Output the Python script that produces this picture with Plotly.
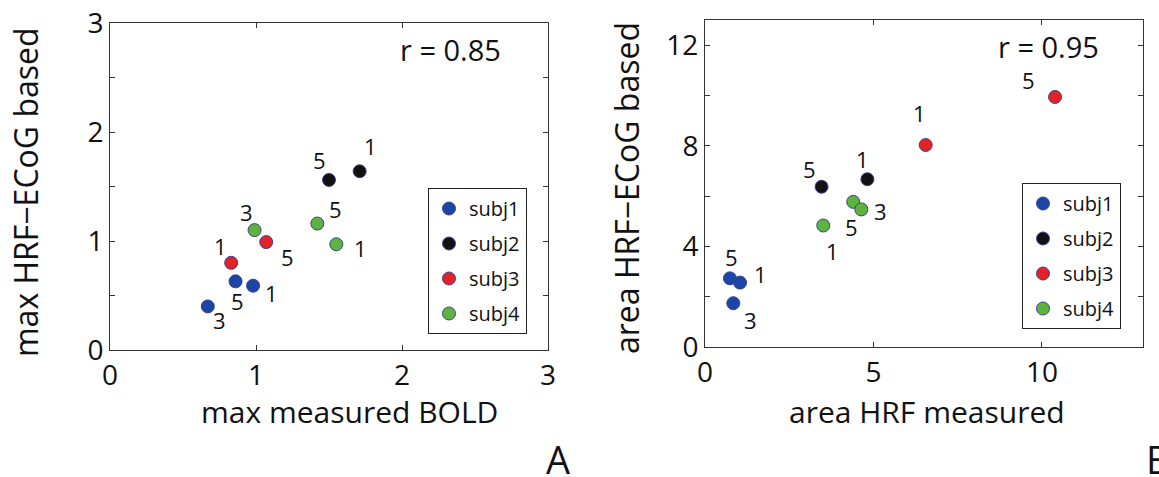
import plotly.graph_objects as go

W, H = 1159, 477
FONT = "Open Sans"

subjects = ["subj1", "subj2", "subj3", "subj4"]
colors = ["#1c46a6", "#111111", "#e32228", "#5cb33d"]

# Panel A: max measured BOLD vs max HRF-ECoG based
a_sessions = [[3, 5, 1], [5, 1], [1, 5], [3, 5, 1]]
a_x = [[0.67, 0.86, 0.98], [1.50, 1.71], [0.83, 1.07], [0.99, 1.42, 1.55]]
a_y = [[0.40, 0.63, 0.59], [1.56, 1.64], [0.80, 0.99], [1.10, 1.16, 0.97]]
a_r = "r = 0.85"

# Panel B: area HRF measured vs area HRF-ECoG based
b_sessions = [[5, 1, 3], [5, 1], [1, 5], [1, 5, 3]]
b_x = [[0.74, 1.04, 0.84], [3.46, 4.82], [6.55, 10.39], [3.51, 4.40, 4.64]]
b_y = [[2.73, 2.56, 1.74], [6.37, 6.67], [8.03, 9.94], [4.83, 5.77, 5.47]]
b_r = "r = 0.95"

a_xticks = [0, 1, 2, 3]
a_yticks = [0, 0.5, 1, 1.5, 2, 2.5, 3]
a_yticktext = ["0", "", "1", "", "2", "", "3"]
b_xticks = [0, 5, 10]
b_yticks = [0, 2, 4, 6, 8, 10, 12]
b_yticktext = ["0", "", "4", "", "8", "", "12"]

# label pixel offsets (style)
a_off = [[(12, -14), (2, -20), (18, -7)], [(-10, 20), (11, 25)],
         [(-11, 17), (21, -15)], [(-8, 18), (18, 15), (24, -4)]]
b_off = [[(2, 21), (20, 9), (17, -17)], [(-12, 18), (-5, 20)],
         [(-6, 32), (-27, 17)], [(9, -25), (-2, -25), (19, -2)]]

fig = go.Figure()
annotations = []

def add_panel(xs, ys, sess, offs, xa, ya, legend, gp):
    for i, name in enumerate(subjects):
        fig.add_trace(go.Scatter(
            x=xs[i], y=ys[i], mode="markers", name=name,
            xaxis=xa, yaxis=ya, legend=legend, legendgroup=gp + name,
            marker=dict(size=13, color=colors[i],
                        line=dict(color="#3d4090", width=1)),
        ))
        for j, s in enumerate(sess[i]):
            annotations.append(dict(
                x=xs[i][j], y=ys[i][j], xref=xa, yref=ya, text=str(s),
                showarrow=False, xshift=offs[i][j][0], yshift=offs[i][j][1],
                xanchor="center", yanchor="middle",
                font=dict(size=22, color="#111", family=FONT)))

add_panel(a_x, a_y, a_sessions, a_off, "x", "y", "legend", "A")
add_panel(b_x, b_y, b_sessions, b_off, "x2", "y2", "legend2", "B")

axis_common = dict(showline=True, linecolor="#333", linewidth=1, mirror="ticks",
                   ticks="inside", ticklen=5, tickcolor="#333", showgrid=False,
                   zeroline=False, automargin=False,
                   tickfont=dict(size=28, color="#111", family=FONT))

fig.update_layout(
    width=W, height=H, margin=dict(l=0, r=0, t=0, b=0, autoexpand=False),
    paper_bgcolor="white", plot_bgcolor="white", showlegend=True,
    xaxis=dict(domain=[110 / W, 548 / W], range=[0, 3], tickvals=a_xticks,
               anchor="y", **axis_common),
    yaxis=dict(domain=[1 - 350 / H, 1 - 23 / H], range=[0, 3], tickvals=a_yticks,
               ticktext=a_yticktext, anchor="x", **axis_common),
    xaxis2=dict(domain=[705 / W, 1143 / W], range=[0, 13], tickvals=b_xticks,
                anchor="y2", **axis_common),
    yaxis2=dict(domain=[1 - 347 / H, 1 - 20 / H], range=[0, 13], tickvals=b_yticks,
                ticktext=b_yticktext, anchor="x2", **axis_common),
    legend=dict(x=428 / W, y=1 - 188 / H, xanchor="left", yanchor="top",
                bordercolor="#222", borderwidth=1, bgcolor="white",
                tracegroupgap=6, font=dict(size=20, color="#111", family=FONT)),
    legend2=dict(x=1022 / W, y=1 - 183 / H, xanchor="left", yanchor="top",
                 bordercolor="#222", borderwidth=1, bgcolor="white",
                 tracegroupgap=6, font=dict(size=20, color="#111", family=FONT)),
)

titles = [
    ("max measured BOLD", 349, 411, 0, 30),
    ("max HRF\u2212ECoG based", 25, 192, -90, 32),
    ("area HRF measured", 927, 411, 0, 30),
    ("area HRF\u2212ECoG based", 626, 188, -90, 32),
]
for t, px, py, ang, fs in titles:
    annotations.append(dict(x=px / W, y=1 - py / H, xref="paper", yref="paper",
                            text=t, showarrow=False, textangle=ang,
                            xanchor="center", yanchor="middle",
                            font=dict(size=fs, color="#111", family=FONT)))
extras = [
    (a_r, 450, 49, 29, "center"),
    (b_r, 1048, 46, 29, "center"),
    ("A", 558, 459, 38, "center"),
    ("B", 1144, 459, 38, "left"),
]
for t, px, py, fs, xa in extras:
    annotations.append(dict(x=px / W, y=1 - py / H, xref="paper", yref="paper",
                            text=t, showarrow=False, xanchor=xa, yanchor="middle",
                            font=dict(size=fs, color="#111", family=FONT)))
fig.update_layout(annotations=annotations)

fig.write_html("out.html")
